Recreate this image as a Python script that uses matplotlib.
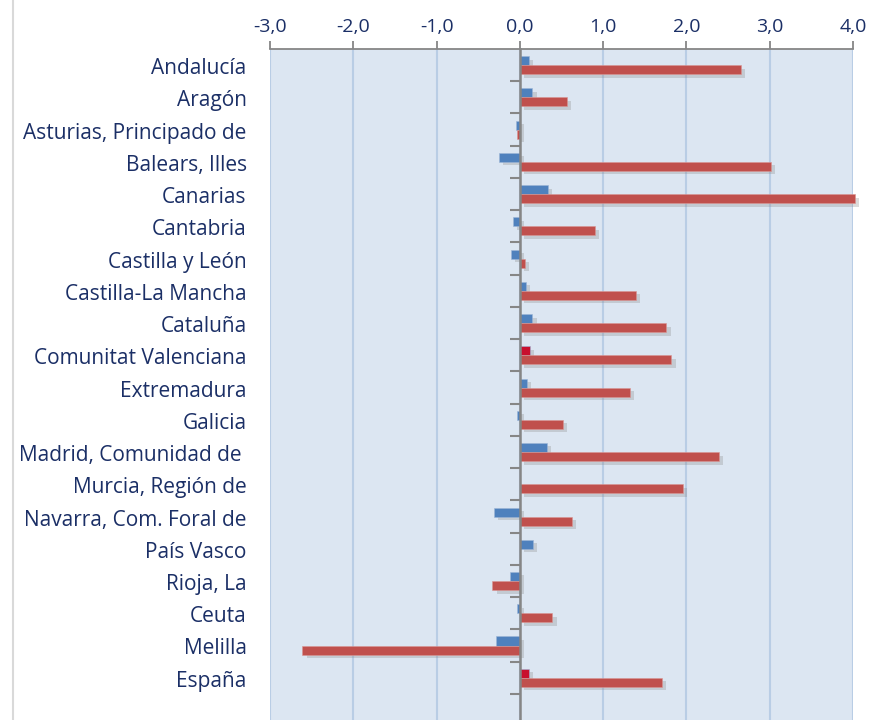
import matplotlib
matplotlib.use("Agg")
import matplotlib.pyplot as plt
import matplotlib.patheffects as pe
import matplotlib.transforms as mtransforms
from matplotlib.lines import Line2D
import numpy as np

categories = ["Andalucía", "Aragón", "Asturias, Principado de", "Balears, Illes",
              "Canarias", "Cantabria", "Castilla y León", "Castilla-La Mancha",
              "Cataluña", "Comunitat Valenciana", "Extremadura", "Galicia",
              "Madrid, Comunidad de ", "Murcia, Región de", "Navarra, Com. Foral de",
              "País Vasco", "Rioja, La", "Ceuta", "Melilla", "España"]
serie_azul = [0.11, 0.15, -0.05, -0.25, 0.34, -0.08, -0.11, 0.07, 0.15, 0.12,
              0.08, -0.04, 0.32, 0.0, -0.31, 0.16, -0.12, -0.03, -0.29, 0.11]
serie_roja = [2.65, 0.57, -0.04, 3.01, 4.02, 0.90, 0.06, 1.39, 1.76, 1.82,
              1.32, 0.52, 2.39, 1.96, 0.63, 0.0, -0.33, 0.39, -2.61, 1.71]
destacadas = ["Comunitat Valenciana", "España"]
xticks = [-3, -2, -1, 0, 1, 2, 3, 4]
xticklabels = ["-3,0", "-2,0", "-1,0", "0,0", "1,0", "2,0", "3,0", "4,0"]

BLUE = "#4F81BD"
RED = "#C0504D"
HIGHLIGHT = "#C8102E"
NAVY = "#1B2F66"
BG = "#DCE6F2"
GRID = "#B9CDE5"
AXIS_GRAY = "#868686"

plt.rcParams["font.family"] = ["Open Sans", "DejaVu Sans"]

fig = plt.figure(figsize=(8.7, 7.2), dpi=100)
ax = fig.add_axes([270 / 870, 0.0, (853 - 270) / 870, (720 - 49) / 720])
ax.set_facecolor(BG)

n = len(categories)
y = np.arange(n)
h = 0.28
shadow = [pe.SimplePatchShadow(offset=(3, -2.5), shadow_rgbFace="#8a8a8a", alpha=0.3), pe.Normal()]

blue_colors = [HIGHLIGHT if c in destacadas else BLUE for c in categories]
bars_b = ax.barh(y - h / 2, serie_azul, height=h, color=blue_colors, zorder=3,
                 edgecolor="#9DB5D6", linewidth=0.4)
bars_r = ax.barh(y + h / 2, serie_roja, height=h, color=RED, zorder=3,
                 edgecolor="#D99694", linewidth=0.4)
for b in list(bars_b) + list(bars_r):
    b.set_path_effects(shadow)
    b.set_clip_on(False)

ax.set_xlim(-3, 4)
ax.set_ylim(20.31, -0.5)

# gridlines
ax.set_xticks(xticks)
ax.set_xticklabels(xticklabels)
ax.grid(axis="x", color=GRID, linewidth=1.5, zorder=1)
ax.set_axisbelow(True)

ax.xaxis.set_ticks_position("top")
ax.xaxis.set_label_position("top")
ax.tick_params(axis="x", which="major", direction="out", length=6, width=1.3,
               color=AXIS_GRAY, labelcolor=NAVY, labelsize=14, pad=3)

# y axis at zero
ax.spines["left"].set_position(("data", 0))
ax.spines["left"].set_color(AXIS_GRAY)
ax.spines["left"].set_linewidth(1.8)
ax.spines["left"].set_zorder(4)
ax.spines["top"].set_color(AXIS_GRAY)
ax.spines["top"].set_linewidth(1.3)
ax.spines["right"].set_visible(False)
ax.spines["bottom"].set_visible(False)

ax.set_yticks(y)
ax.set_yticklabels([])
ax.tick_params(axis="y", which="major", length=0)
ax.set_yticks(np.arange(n) + 0.5, minor=True)
ax.tick_params(axis="y", which="minor", direction="out", length=7, width=1.5,
               color=AXIS_GRAY)

label_tr = ax.get_yaxis_transform() + mtransforms.ScaledTranslation(0, -2.5 / 72, fig.dpi_scale_trans)
for yi, c in zip(y, categories):
    ax.text(-0.04, yi, c, transform=label_tr, ha="right",
            va="center", color=NAVY, fontsize=15)

# chart frame left border
fig.add_artist(Line2D([13 / 870, 13 / 870], [0, 1], color="#D9D9D9", linewidth=1.5))

fig.savefig("out.png", dpi=100)
